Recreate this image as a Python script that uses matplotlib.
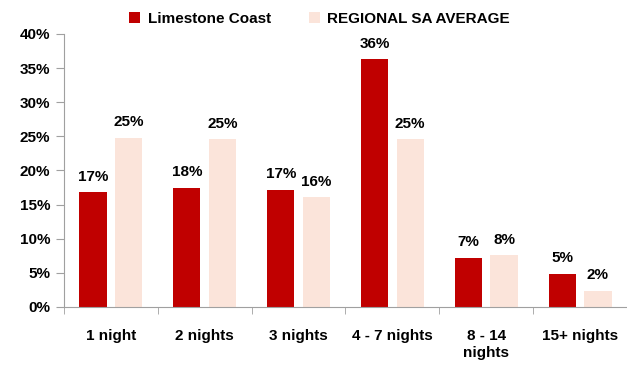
import matplotlib.pyplot as plt
import numpy as np

plt.rcParams['font.family'] = ['Liberation Sans Narrow', 'Liberation Sans', 'DejaVu Sans']
plt.rcParams['font.weight'] = 'bold'

categories = ["1 night", "2 nights", "3 nights", "4 - 7 nights", "8 - 14\nnights", "15+ nights"]
limestone = [16.8, 17.5, 17.2, 36.3, 7.2, 4.9]
regional = [24.8, 24.6, 16.1, 24.6, 7.6, 2.4]
series_names = ["Limestone Coast", "REGIONAL SA AVERAGE"]
colors = ["#C00000", "#FBE4DA"]

fig = plt.figure(figsize=(6.27, 3.65), dpi=100)
ax = fig.add_axes([0.102, 0.159, 0.898, 0.748])

x = np.arange(len(categories))
w = 0.29
b1 = ax.bar(x - 0.19, limestone, w, color=colors[0], label=series_names[0])
b2 = ax.bar(x + 0.19, regional, w, color=colors[1], label=series_names[1])

for bars, vals in [(b1, limestone), (b2, regional)]:
    for rect, v in zip(bars, vals):
        ax.annotate(f"{round(v)}%", (rect.get_x() + rect.get_width() / 2, v),
                    xytext=(0, 6), textcoords="offset points",
                    ha="center", va="bottom", fontsize=11, fontweight="bold")

ax.set_xlim(-0.5, len(categories) - 0.5)
ax.set_ylim(0, 40)
ax.set_yticks(range(0, 41, 5))
ax.set_yticklabels([f"{t}%" for t in range(0, 41, 5)])
ax.set_xticks(x)
ax.set_xticklabels(categories, va="top", linespacing=1.3)
ax.set_xticks(np.arange(-0.5, len(categories), 1), minor=True)
ax.tick_params(axis="x", which="major", length=0, pad=16, labelsize=11)
ax.tick_params(axis="x", which="minor", length=5, color="#A0A0A0", direction="out")
ax.tick_params(axis="y", length=6, color="#A0A0A0", labelsize=11, pad=4)

for s in ["top", "right"]:
    ax.spines[s].set_visible(False)
for s in ["left", "bottom"]:
    ax.spines[s].set_color("#A0A0A0")

leg = fig.legend(loc="upper center", bbox_to_anchor=(0.51, 1.005), ncol=2, frameon=False,
                 fontsize=11, handlelength=0.7, handleheight=0.7, columnspacing=2.5,
                 handletextpad=0.5)

plt.savefig("out.png", dpi=100)
